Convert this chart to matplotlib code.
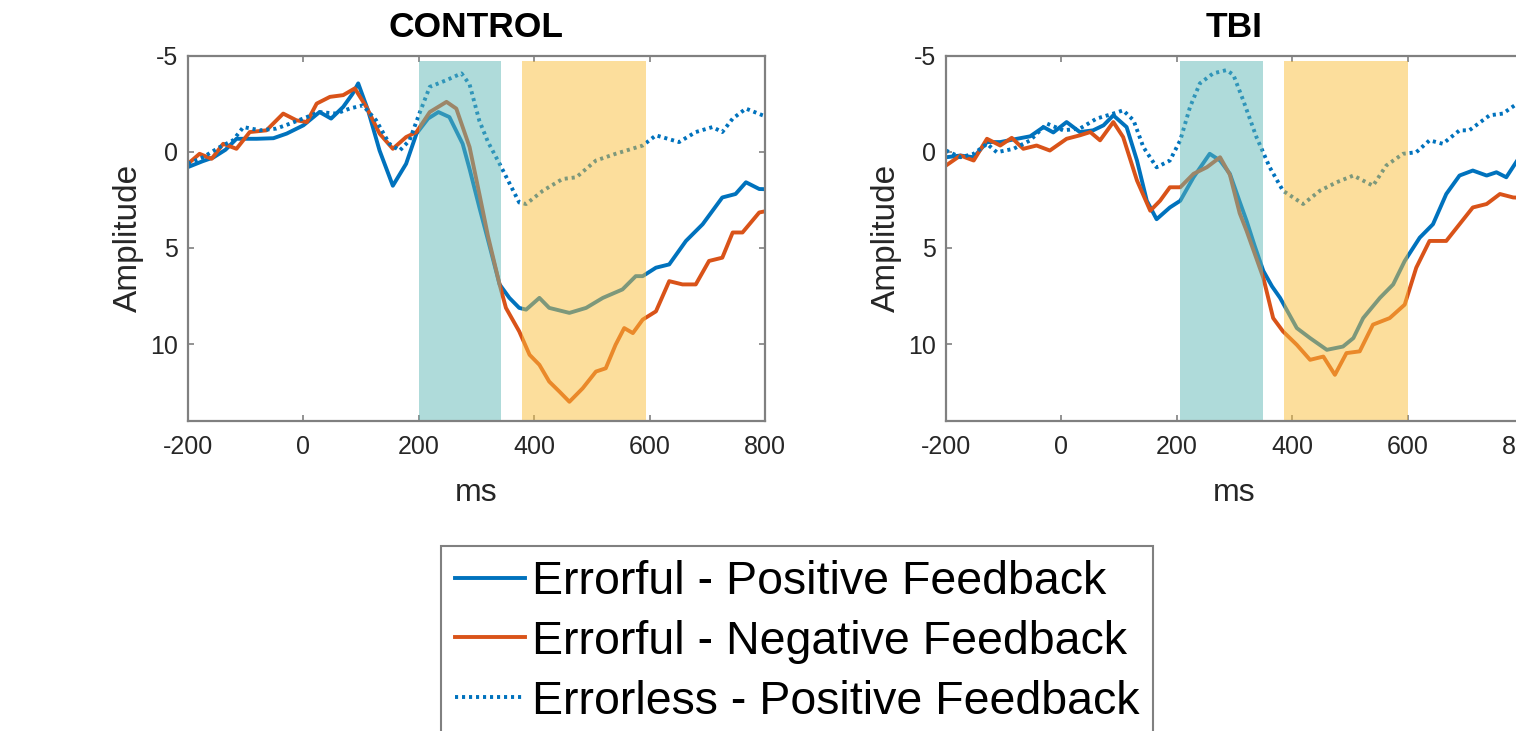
import matplotlib
matplotlib.use("Agg")
import matplotlib.pyplot as plt
from matplotlib.patches import Rectangle

plt.rcParams['font.family'] = ['Liberation Sans', 'DejaVu Sans']
plt.rcParams['axes.unicode_minus'] = False

# --- data (ms, amplitude) ---
ctl_pos_t = [-200, -175, -156, -135, -116, -81, -52, -29, 0, 28, 48, 69, 85, 95, 112, 132, 155, 178, 196,
             216, 234, 253, 276, 288, 305, 320, 340, 357, 374, 386, 409, 426, 461, 490, 519, 553, 576, 588,
             611, 634, 663, 692, 726, 749, 767, 790, 800]
ctl_pos_v = [0.8, 0.5, 0.3, -0.1, -0.67, -0.67, -0.7, -0.94, -1.37, -2.06, -1.72, -2.33, -3.0, -3.55, -2.15,
             -0.06, 1.77, 0.63, -0.94, -1.72, -2.06, -1.8, -0.41, 0.9, 2.9, 4.6, 6.9, 7.6, 8.12, 8.21, 7.6,
             8.12, 8.38, 8.12, 7.6, 7.16, 6.47, 6.47, 6.03, 5.86, 4.64, 3.77, 2.38, 2.2, 1.59, 1.94, 1.95]

ctl_neg_t = [-200, -180, -159, -139, -116, -93, -64, -35, -12, 6, 23, 46, 69, 89, 109, 132, 155, 178, 196,
             219, 248, 265, 288, 305, 320, 340, 351, 374, 392, 409, 426, 444, 461, 484, 507, 524, 541, 556,
             571, 588, 611, 634, 657, 680, 703, 726, 744, 761, 790, 800]
ctl_neg_v = [0.63, 0.11, 0.37, -0.41, -0.15, -1.02, -1.11, -1.98, -1.63, -1.54, -2.5, -2.85, -2.94, -3.29,
             -2.33, -0.94, -0.15, -0.76, -1.02, -2.06, -2.59, -2.24, -0.24, 2.2, 4.4, 6.9, 8.12, 9.34, 10.56,
             11.08, 11.95, 12.48, 13.0, 12.3, 11.43, 11.26, 10.04, 9.17, 9.43, 8.73, 8.3, 6.73, 6.9, 6.9,
             5.68, 5.51, 4.2, 4.2, 3.16, 3.1]

ctl_less_t = [-200, -174, -145, -122, -104, -75, -47, -23, 6, 28, 57, 80, 103, 126, 149, 167, 184, 201, 219,
              248, 274, 288, 305, 320, 340, 374, 386, 415, 449, 473, 507, 541, 588, 611, 651, 680, 709, 726,
              744, 767, 796, 800]
ctl_less_v = [0.63, 0.29, -0.24, -0.59, -1.28, -1.11, -1.2, -1.46, -1.8, -2.06, -1.98, -2.24, -2.41, -1.63,
              -0.41, -0.06, -0.59, -1.98, -3.37, -3.72, -4.07, -3.5, -1.6, -0.5, 0.63, 2.64, 2.72, 2.03, 1.42,
              1.33, 0.46, 0.11, -0.32, -0.85, -0.5, -1.02, -1.28, -1.02, -1.72, -2.24, -1.89, -1.85]

tbi_pos_t = [-200, -175, -152, -129, -106, -77, -54, -31, -14, 9, 32, 55, 73, 90, 113, 131, 148, 165, 188,
             206, 229, 257, 275, 292, 309, 321, 335, 350, 365, 379, 408, 431, 460, 488, 506, 523, 552, 575,
             595, 621, 644, 667, 690, 713, 737, 754, 771, 790, 800]
tbi_pos_v = [0.29, 0.2, 0.29, -0.5, -0.5, -0.67, -0.8, -1.28, -1.0, -1.54, -1.02, -1.11, -1.37, -1.89, -1.28,
             0.46, 2.55, 3.51, 2.9, 2.55, 1.33, 0.11, 0.46, 1.15, 2.6, 3.6, 4.9, 6.2, 7.0, 7.6, 9.17, 9.69,
             10.3, 10.13, 9.69, 8.65, 7.6, 6.9, 5.68, 4.47, 3.77, 2.2, 1.24, 0.98, 1.24, 1.07, 1.33, 0.46, 0.3]

tbi_neg_t = [-200, -175, -152, -129, -106, -86, -66, -43, -20, 9, 32, 50, 67, 90, 107, 131, 154, 171, 188,
             206, 229, 252, 275, 292, 309, 321, 350, 367, 384, 408, 431, 454, 474, 494, 517, 540, 569, 595,
             615, 638, 667, 690, 713, 737, 760, 783, 800]
tbi_neg_v = [0.72, 0.2, 0.46, -0.67, -0.32, -0.72, -0.15, -0.32, -0.06, -0.67, -0.85, -1.02, -0.59, -1.54,
             -0.76, 1.5, 3.07, 2.55, 1.85, 1.85, 1.15, 0.81, 0.29, 1.2, 3.2, 4.12, 6.56, 8.65, 9.34, 10.04,
             10.82, 10.65, 11.6, 10.47, 10.38, 8.99, 8.65, 7.95, 6.03, 4.64, 4.64, 3.77, 2.9, 2.72, 2.2,
             2.38, 2.4]

tbi_less_t = [-200, -175, -152, -129, -112, -83, -54, -25, 3, 32, 61, 90, 107, 125, 142, 165, 188, 206, 223,
              240, 263, 286, 298, 315, 338, 361, 384, 419, 448, 477, 506, 540, 563, 592, 615, 638, 661, 690,
              707, 742, 765, 790, 800]
tbi_less_v = [-0.06, 0.29, 0.11, -0.41, 0.03, -0.15, -0.59, -1.46, -1.11, -1.2, -1.72, -1.98, -2.15, -1.63,
              -0.24, 0.81, 0.46, -0.59, -2.33, -3.55, -4.07, -4.24, -4.0, -2.68, -0.76, 0.81, 2.03, 2.72,
              2.03, 1.59, 1.24, 1.77, 0.72, 0.11, 0.03, -0.59, -0.41, -1.11, -1.11, -1.89, -1.98, -2.5, -2.6]

# analysis windows (ms)
ctl_windows = [(200, 342), (378, 593)]
tbi_windows = [(206, 350), (385, 600)]

labels = ['Errorful - Positive Feedback', 'Errorful - Negative Feedback', 'Errorless - Positive Feedback']
blue = '#0072BD'
orange = '#D95319'
win_colors = ['#61B9B7', '#FBBF3B']
axis_gray = '#808080'
text_gray = '#262626'

W, H = 1516, 731
fig = plt.figure(figsize=(W / 100, H / 100), dpi=100)


def draw_panel(ax, title, pos, neg, less, windows):
    l1, = ax.plot(pos[0], pos[1], color=blue, lw=2.8, solid_joinstyle='round')
    l2, = ax.plot(neg[0], neg[1], color=orange, lw=2.8, solid_joinstyle='round')
    l3, = ax.plot(less[0], less[1], color=blue, lw=2.8, linestyle=(0, (0.8, 1.0)))
    for (a, b), c in zip(windows, win_colors):
        ax.add_patch(Rectangle((a, -4.7), b - a, 18.7, facecolor=c, edgecolor='none',
                               alpha=0.5, zorder=3))
    ax.set_xlim(-200, 800)
    ax.set_ylim(14, -5)
    ax.set_xticks([-200, 0, 200, 400, 600, 800])
    ax.set_yticks([-5, 0, 5, 10])
    ax.tick_params(direction='in', length=4, width=1.2, colors=axis_gray, labelcolor=text_gray,
                   labelsize=18, top=True, right=True)
    ax.tick_params(axis='x', pad=10)
    ax.tick_params(axis='y', pad=7)
    for s in ax.spines.values():
        s.set_color(axis_gray)
        s.set_linewidth(1.6)
        s.set_zorder(5)
    ax.set_title(title, fontsize=25.5, fontweight='bold', pad=13)
    ax.set_xlabel('ms', fontsize=23, color=text_gray, labelpad=14)
    ax.set_ylabel('Amplitude', fontsize=24, color=text_gray, labelpad=5)
    return [l1, l2, l3]


ax1 = fig.add_axes([188 / W, 1 - 421 / H, 577 / W, 365.5 / H])
handles = draw_panel(ax1, 'CONTROL', (ctl_pos_t, ctl_pos_v), (ctl_neg_t, ctl_neg_v),
                     (ctl_less_t, ctl_less_v), ctl_windows)
ax2 = fig.add_axes([946 / W, 1 - 421 / H, 577 / W, 365.5 / H])
draw_panel(ax2, 'TBI', (tbi_pos_t, tbi_pos_v), (tbi_neg_t, tbi_neg_v),
           (tbi_less_t, tbi_less_v), tbi_windows)

leg = fig.legend(handles, labels, loc='upper left', bbox_to_anchor=(441 / W, 1 - 546 / H),
                 fontsize=33.5, frameon=True, fancybox=False, framealpha=1, borderaxespad=0,
                 borderpad=0.3, handlelength=1.5, handletextpad=0.15, labelspacing=0.34)
leg.get_frame().set_edgecolor(axis_gray)
leg.get_frame().set_linewidth(1.5)

fig.savefig('out.png', dpi=100)
